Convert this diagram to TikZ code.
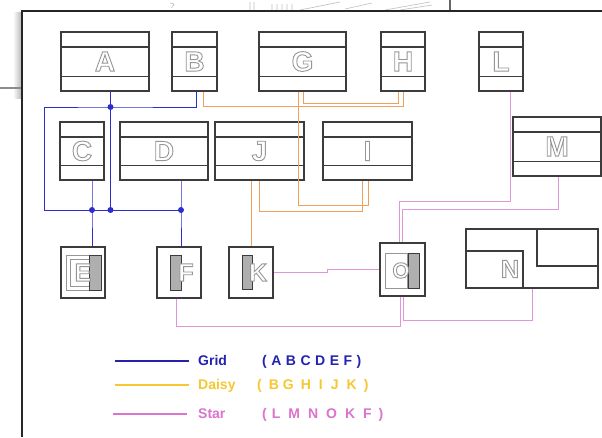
\documentclass[tikz,border=0pt]{standalone}
\usepackage{fontspec}
\setmainfont{Liberation Sans}
\usetikzlibrary{calc}
\definecolor{boxc}{RGB}{60,60,60}
\definecolor{lettergray}{RGB}{150,150,150}
\definecolor{gridc}{RGB}{45,45,205}
\definecolor{gridtext}{RGB}{35,35,175}
\definecolor{daisyc}{RGB}{240,160,90}
\definecolor{daisyleg}{RGB}{245,200,50}
\definecolor{starc}{RGB}{225,150,220}
\definecolor{starleg}{RGB}{220,115,205}
\definecolor{barfill}{RGB}{175,175,175}
% outlined (hollow) letters: fill white, stroke gray, via PDF text render mode 2
\newcommand\olt[1]{{\color{white}\special{pdf:literal direct q 2 Tr 0.9 w 0.59 G}#1\special{pdf:literal direct Q}}}
\tikzset{
  lbl/.style={font=\fontsize{28}{28}\selectfont\bfseries, inner sep=0pt},
  smalllbl/.style={font=\fontsize{25}{25}\selectfont\bfseries, inner sep=0pt},
  box/.style={draw=boxc, line width=1.1pt, fill=white, inner sep=0pt, lbl},
  band/.style={path picture={
    \draw[boxc, line width=1.1pt] ([yshift=-15pt]path picture bounding box.north west) -- ([yshift=-15pt]path picture bounding box.north east);
    \draw[boxc, line width=1.1pt] ([yshift=14.5pt]path picture bounding box.south west) -- ([yshift=14.5pt]path picture bounding box.south east);}},
  wide/.style={minimum width=88pt, minimum height=59pt},
  narrow/.style={minimum width=44pt, minimum height=59pt},
  icon/.style={draw=boxc, line width=1.1pt, fill=white, inner sep=0pt, minimum width=44pt, minimum height=51pt},
  gridline/.style={draw=gridc, line width=1pt},
  daisyline/.style={draw=daisyc, line width=1pt},
  starline/.style={draw=starc, line width=1pt},
  legline/.style={line width=2.5pt},
  legtext/.style={font=\fontsize{14}{14}\selectfont\bfseries, inner sep=0pt, anchor=base west},
  dot/.style={fill=gridc},
  bar/.style={fill=barfill, draw=boxc, line width=0.8pt},
  pane/.style={fill=white, draw=lettergray, line width=0.8pt}
}
\begin{document}
\begin{tikzpicture}[x=1pt, y=-1pt]
\useasboundingbox (0,0) rectangle (602,437);
\fill[white] (0,0) rectangle (602,437);
% background window fragments
\shade[left color=white, right color=black!30] (13,12) rectangle (22,98);
\draw[black!45, line width=2.5pt] (0,88) -- (22,88);
\draw[black!60, line width=2.2pt] (450,0) -- (450,11);
\draw[black!25, line width=0.6pt] (170,3) .. controls (175,4) .. (171,8) (250,2) -- (250,10) (254,2) -- (254,10)
  (272,4) -- (272,10) (277,4) -- (277,10) (282,4) -- (282,10) (287,4) -- (287,10) (292,4) -- (292,10)
  (300,10) -- (340,2) (345,9) -- (372,3) (385,10) -- (430,2) (400,10) -- (432,5);
\draw[black!85, line width=1.5pt] (22,437) -- (22,11) -- (602,11);

% top row
\node[box, band, wide] (A) at (105,61.5) {\olt{A}};
\node[box, band, minimum width=45pt, minimum height=59pt] (B) at (194.5,61.5) {\olt{B}};
\node[box, band, minimum width=87pt, minimum height=59pt] (G) at (302.5,61.5) {\olt{G}};
\node[box, band, narrow] (H) at (403,61.5) {\olt{H}};
\node[box, band, narrow] (L) at (501,61.5) {\olt{L}};
% middle row
\node[box, band, minimum width=44pt, minimum height=58pt] (C) at (82,151) {\olt{C}};
\node[box, band, minimum width=88pt, minimum height=58pt] (D) at (164,151) {\olt{D}};
\node[box, band, minimum width=89pt, minimum height=58pt] (J) at (259.5,151) {\olt{J}};
\node[box, band, minimum width=89pt, minimum height=58pt] (I) at (367.5,151) {\olt{I}};
\node[box, band, minimum width=88pt, minimum height=59pt] (M) at (557,146.5) {\olt{M}};
% bottom row
\node[icon] (E) at (83,272.5) {};
\node[icon] (F) at (179,272.5) {};
\node[icon] (K) at (251,272.5) {};
\node[icon, minimum width=45pt, minimum height=53pt] (O) at (402.5,269.5) {};
\node[draw=boxc, line width=1.1pt, fill=white, inner sep=0pt, minimum width=132pt, minimum height=59pt] (N) at (532,258.5) {};
\draw[boxc, line width=1.1pt] (537,229) -- (537,266) -- (598,266);
\draw[boxc, line width=1.1pt] (466,251) -- (523,251) -- (523,288);
\node[smalllbl] (Nl) at (510,269) {\olt{N}};

% icon E
\begin{scope}[shift={(E.center)}]
  \draw[pane] (-16.5,-17.5) rectangle (18.5,17.5);
  \draw[pane] (-12.5,-13.5) rectangle (6,13.5);
  \draw[bar] (6,-17.5) rectangle (18.5,17.5);
  \node[smalllbl] (El) at (0,0) {\olt{E}};
\end{scope}
% icon F
\begin{scope}[shift={(F.center)}]
  \draw[bar] (-9,-17.5) rectangle (2,17.5);
  \node[smalllbl] (Fl) at (7,0) {\olt{F}};
\end{scope}
% icon K
\begin{scope}[shift={(K.center)}]
  \draw[bar] (-8.5,-17) rectangle (1.5,17);
  \node[smalllbl] (Kl) at (7,0) {\olt{K}};
\end{scope}
% icon O
\begin{scope}[shift={(O.center)}]
  \draw[pane] (-17.5,-16.5) rectangle (5,18.5);
  \draw[bar] (5.5,-16.5) rectangle (16.5,18.5);
  \node[font=\fontsize{22}{22}\selectfont\bfseries, inner sep=0pt] (Ol) at (-1.5,1) {\olt{O}};
\end{scope}

% Grid connectors (blue)
\coordinate (jA) at (110.5,107);
\coordinate (jAm) at (110.5,210);
\coordinate (jC) at (92,210);
\coordinate (jD) at (181,210);
\coordinate (gl1) at (44,107);
\coordinate (gl2) at (44,210);
\draw[gridline] ([xshift=5.5pt]A.south) -- (jA) -- (jAm);
\draw[gridline] ([xshift=1.5pt]B.south) |- (jA) -- (gl1) -- (gl2) -- (jD);
\draw[gridline] ([xshift=10pt]C.south) -- (jC) -- (jC |- E.north);
\draw[gridline] ([xshift=17pt]D.south) -- (jD) -- (jD |- F.north);
\foreach \p in {jA,jAm,jC,jD} \fill[dot] (\p) circle (3pt);

% Daisy connectors (orange)
\coordinate (o1) at (403,106);
\coordinate (o2) at (398,103);
\coordinate (o3) at (368,205);
\coordinate (o4) at (362,211);
\draw[daisyline] ([xshift=8.5pt]B.south) |- (o1) -- (H.south);
\draw[daisyline] ([xshift=0.5pt]G.south) |- (o2) -- ([xshift=-5pt]H.south);
\draw[daisyline] ([xshift=-4.5pt]G.south) |- (o3) -- ([xshift=0.5pt]I.south);
\draw[daisyline] ([xshift=-0.5pt]J.south) |- (o4) -- ([xshift=-5.5pt]I.south);
\draw[daisyline] ([xshift=-8.5pt]J.south) -- ([xshift=0pt]K.north);

% Star connectors (pink)
\coordinate (p1) at (399,201);
\coordinate (p2) at (402,209);
\coordinate (p3) at (400,326);
\coordinate (p4) at (532,320);
\coordinate (p5) at (327,272.5);
\coordinate (p6) at (327,269.5);
\draw[starline] ([xshift=9pt]L.south) |- (p1) -- ([xshift=-3.5pt]O.north);
\draw[starline] ([xshift=1pt]M.south) |- (p2) -- ([xshift=-0.5pt]O.north);
\draw[starline] ([xshift=-3pt]F.south) |- (p3) -- ([xshift=-2.5pt]O.south);
\draw[starline] ([xshift=0.5pt]O.south) |- (p4) -- (N.south);
\draw[starline] (K.east) -- (p5) -- (p6) -- (O.west);

% legend
\coordinate (lg1a) at (115,361); \coordinate (lg1b) at (189,361);
\coordinate (lg2a) at (115,385); \coordinate (lg2b) at (189,385);
\coordinate (lg3a) at (113,414); \coordinate (lg3b) at (187,414);
\draw[legline, gridtext] (lg1a) -- (lg1b);
\draw[legline, daisyleg] (lg2a) -- (lg2b);
\draw[legline, starleg] (lg3a) -- (lg3b);
\node[legtext, text=gridtext] (tg) at (198,365.5) {Grid};
\node[legtext, text=gridtext] (tg2) at (262,365.5) {(\hspace{4.5pt}A\hspace{4.5pt}B\hspace{4.5pt}C\hspace{4.5pt}D\hspace{4.5pt}E\hspace{4.5pt}F\hspace{4.5pt})};
\node[legtext, text=daisyleg] (td) at (198,389) {Daisy};
\node[legtext, text=daisyleg] (td2) at (257,389) {(\hspace{7pt}B\hspace{4pt}G\hspace{7pt}H\hspace{8pt}I\hspace{8pt}J\hspace{8pt}K\hspace{7pt})};
\node[legtext, text=starleg] (ts) at (198,418) {Star};
\node[legtext, text=starleg] (ts2) at (262,418) {(\hspace{5pt}L\hspace{8pt}M\hspace{8pt}N\hspace{8pt}O\hspace{8pt}K\hspace{8pt}F\hspace{7pt})};
\end{tikzpicture}
\end{document}
